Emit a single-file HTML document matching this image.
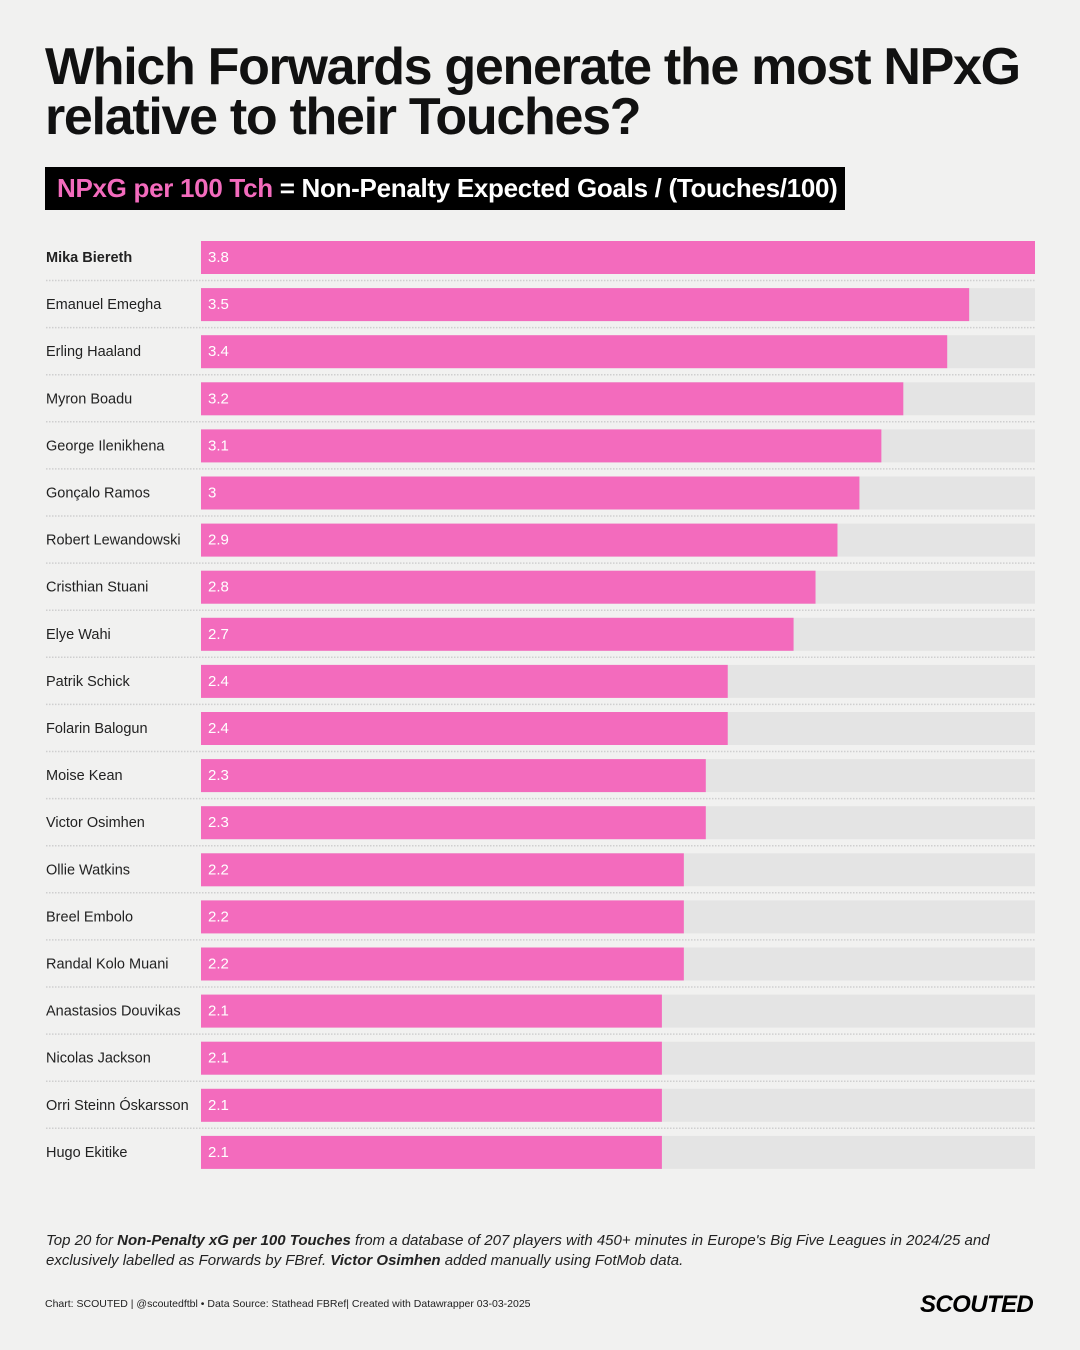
<!DOCTYPE html>
<html><head><meta charset="utf-8"><style>
body{margin:0;width:1080px;height:1350px;background:#f1f1f0;font-family:"Liberation Sans",sans-serif;position:relative;overflow:hidden}
.t{position:absolute;left:45px;top:42px;font-size:52px;font-weight:bold;letter-spacing:-1.3px;line-height:50px;color:#111;margin:0;white-space:nowrap}
.sub{position:absolute;left:45px;top:167px;width:800px;height:43px;background:#000;color:#fff;font-size:26px;font-weight:bold;letter-spacing:-0.3px;line-height:43px;box-sizing:border-box;padding-left:12px;white-space:nowrap}
.sub span{color:#f36bbd}
#chart{position:absolute;left:0;top:0}
.note{position:absolute;left:46px;top:1231px;width:990px;font-size:15px;font-style:italic;line-height:20px;color:#222}
.foot{position:absolute;left:45px;top:1298px;font-size:10.5px;color:#222}
.logo{position:absolute;left:920px;top:1291px;font-size:24px;font-weight:bold;font-style:italic;letter-spacing:-0.6px;color:#000}
</style></head><body>
<h1 class="t">Which Forwards generate the most NPxG<br>relative to their Touches?</h1>
<div class="sub"><span>NPxG per 100 Tch</span> = Non-Penalty Expected Goals / (Touches/100)</div>
<svg id="chart" width="1080" height="1200"></svg>
<div class="note">Top 20 for <b>Non-Penalty xG per 100 Touches</b> from a database of 207 players with 450+ minutes in Europe's Big Five Leagues in 2024/25 and exclusively labelled as Forwards by FBref. <b>Victor Osimhen</b> added manually using FotMob data.</div>
<div class="foot">Chart: SCOUTED | @scoutedftbl • Data Source: Stathead FBRef| Created with Datawrapper 03-03-2025</div>
<div class="logo">SCOUTED</div>
<script>
const players=["Mika Biereth","Emanuel Emegha","Erling Haaland","Myron Boadu","George Ilenikhena","Gonçalo Ramos","Robert Lewandowski","Cristhian Stuani","Elye Wahi","Patrik Schick","Folarin Balogun","Moise Kean","Victor Osimhen","Ollie Watkins","Breel Embolo","Randal Kolo Muani","Anastasios Douvikas","Nicolas Jackson","Orri Steinn Óskarsson","Hugo Ekitike"];
const values=[3.8,3.5,3.4,3.2,3.1,3,2.9,2.8,2.7,2.4,2.4,2.3,2.3,2.2,2.2,2.2,2.1,2.1,2.1,2.1];
const labels=["3.8","3.5","3.4","3.2","3.1","3","2.9","2.8","2.7","2.4","2.4","2.3","2.3","2.2","2.2","2.2","2.1","2.1","2.1","2.1"];
const NS="http://www.w3.org/2000/svg";
const svg=document.getElementById('chart');
const x0=201,x1=1035,maxV=3.8;
const xs=v=>x0+(v/maxV)*(x1-x0);
const ys=i=>241+i*47.1;
function mk(t,a){const e=document.createElementNS(NS,t);for(const k in a)e.setAttribute(k,a[k]);svg.appendChild(e);return e;}
players.forEach((p,i)=>{
  const y=ys(i);
  const tr=mk('rect',{x:x0,y:y,width:x1-x0,height:33,fill:'#e4e4e4'});
  
  
  const b=mk('rect',{x:x0,y:y,width:xs(values[i])-x0,height:33,fill:'#f36bbd'});
  
  
  const l=mk('text',{x:46,y:y+21,'font-size':14.5,fill:'#222','font-weight':i==0?'bold':'normal','font-family':'Liberation Sans, sans-serif'});
  l.textContent=p;
  
  
  const v=mk('text',{x:x0+7,y:y+21,'font-size':15,fill:'#fff','font-family':'Liberation Sans, sans-serif'});
  v.textContent=labels[i];
  
  
  if(i<players.length-1){
    const s=mk('line',{x1:46,x2:x1,y1:y+39.5,y2:y+39.5,stroke:'#cfcfcf','stroke-width':1.5,'stroke-dasharray':'1.5 1.5'});
    
    
  }
});
</script>
</body></html>
